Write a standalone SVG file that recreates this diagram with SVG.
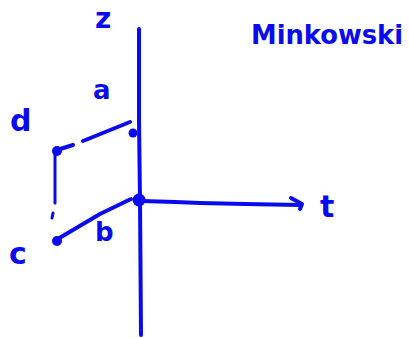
<svg xmlns="http://www.w3.org/2000/svg" width="409" height="338" viewBox="0 0 409 338">
<style>
.s{fill:none;stroke:#0a0aee;stroke-width:4;stroke-linecap:round;stroke-linejoin:round}
.th{stroke-width:3}
.t{fill:#0a0aee;font-family:"DejaVu Sans","Liberation Sans",sans-serif;font-weight:bold}
.d{fill:#0a0aee}
</style>
<rect width="409" height="338" fill="#fff"/>
<g id="connectors">
<path class="s" d="M139,29 L139,120 L140,200 L141,335"/>
<path class="s" d="M142,201 L175,202 L200,203 L245,204 L300,205"/>
<path class="s" d="M291,198 L302,204 L300,209"/>
<path class="s" d="M57,150 L73,145"/>
<path class="s" d="M83,141 L130,122"/>
<path class="s" d="M56,240 L100,214 L131,199"/>
<path class="s th" d="M55,152 L55,203"/>
<path class="s th" d="M53,213 L52,218"/>
</g>
<g id="node-origin"><circle class="d" cx="139" cy="200" r="6.5"/></g>
<g id="node-a-point"><circle class="d" cx="133" cy="133" r="4.5"/></g>
<g id="node-d"><circle class="d" cx="57" cy="151" r="5"/><text class="t" x="10" y="131" font-size="30">d</text></g>
<g id="node-c"><circle class="d" cx="57" cy="241" r="5"/><text class="t" x="9" y="264" font-size="30">c</text></g>
<g id="labels">
<text class="t" x="95" y="28" font-size="28">z</text>
<text class="t" x="93" y="99" font-size="26">a</text>
<text class="t" x="95" y="241" font-size="26">b</text>
<text class="t" x="320" y="217" font-size="30">t</text>
<text class="t" x="251" y="44" font-size="27" textLength="152" lengthAdjust="spacingAndGlyphs">Minkowski</text>
</g>
</svg>
